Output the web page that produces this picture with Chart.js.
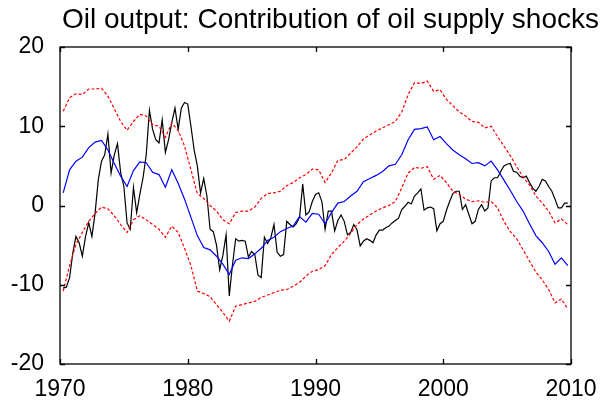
<!DOCTYPE html>
<html lang="en">
  <head>
    <meta charset="UTF-8" />
    <script src="https://cdn.jsdelivr.net/npm/chart.js@4.4.1/dist/chart.umd.min.js"></script>
    <title>Oil output: Contribution of oil supply shocks</title>
    <style>
      html,
      body {
        margin: 0;
        padding: 0;
        background-color: #ffffff;
      }

      canvas {
        display: block;
      }
    </style>
  </head>
  <body>
    <canvas id="myChart" width="616" height="407"></canvas>
    <script>
      // quarterly samples start at 1970.25; the smooth lines are read every half year
      const firstYear = 1970.25;
      const xTicks = [1970, 1980, 1990, 2000, 2010];
      const yTicks = [-20, -10, 0, 10, 20];
      const chartTitle = "Oil output: Contribution of oil supply shocks";

      // black: contribution (quarterly)
      const contribution = [
        -10.4, -10.3, -9.1, -6.0, -3.9, -4.7, -6.4, -3.9, -2.2, -3.9,
        -0.9, 3.3, 5.6, 6.4, 9.0, 4.1, 6.4, 7.8, 4.1, 2.4,
        -2.2, -3.0, 2.3, -0.9, 1.4, 3.5, 6.4, 12.0, 9.6, 8.3,
        7.9, 10.8, 6.7, 8.3, 10.5, 12.3, 9.6, 12.3, 13.0, 12.8,
        10.0, 7.0, 5.0, 1.6, 3.4, 1.2, -3.0, -3.3, -5.0, -8.1,
        -6.3, -3.7, -11.4, -7.5, -4.2, -4.5, -4.4, -4.5, -6.5, -5.8,
        -6.2, -8.8, -9.1, -4.0, -4.8, -4.1, -2.4, -5.9, -6.4, -6.2,
        -2.0, -2.4, -2.7, -2.3, -1.5, 2.7, -1.2, -0.8, 0.5, 1.4,
        1.6, 0.5, -3.0, -0.7, -0.7, -3.2, -1.9, -1.2, -2.0, -3.7,
        -3.4, -2.4, -3.1, -5.1, -4.5, -4.2, -4.4, -4.7, -3.7, -3.1,
        -3.1, -2.8, -2.6, -2.2, -1.9, -1.6, -0.5, -0.1, 0.4, 0.2,
        1.2, 1.6, 2.1, -0.6, -0.3, -0.2, -0.4, -3.2, -2.3, -2.0,
        -0.6, 0.5, 1.5, 1.8, 1.8, -0.5, 0.1, -1.1, -2.3, -2.0,
        -0.5, 0.1, -0.7, -0.3, 3.1, 3.5, 3.5, 4.3, 5.0, 5.2,
        5.3, 4.3, 4.2, 3.7, 3.5, 3.7, 2.9, 2.2, 1.8, 2.4,
        3.3, 3.1, 2.4, 1.8, 0.8, -0.3, -0.3, 0.3, 0.3
      ];

      // blue: median (half-yearly)
      const median = [
        1.6, 4.5, 5.6, 6.1, 7.3, 8.0, 8.2, 7.0, 5.3, 3.7,
        2.4, 4.4, 5.5, 5.4, 4.2, 3.9, 2.3, 4.5, 2.8, 0.8,
        -1.5, -3.8, -5.3, -5.6, -6.4, -7.4, -8.7, -6.9, -6.6, -6.7,
        -6.1, -5.4, -4.4, -4.0, -3.3, -2.9, -2.6, -1.4, -2.1, -1.0,
        -1.1, -2.3, -0.9, 0.3, 0.5, 1.2, 1.8, 3.0, 3.4, 3.8,
        4.3, 5.0, 5.2, 6.4, 8.3, 9.6, 9.7, 9.9, 8.3, 8.7,
        7.8, 7.0, 6.4, 5.9, 5.3, 5.4, 5.0, 5.6, 4.5, 3.2,
        1.9, 0.5, -0.7, -2.3, -3.8, -4.7, -5.8, -7.4, -6.6, -7.6
      ];

      // red dashed: upper and lower bands (half-yearly)
      const upperBand = [
        11.9, 13.6, 14.1, 14.0, 14.7, 14.7, 14.8, 13.8, 12.2, 10.6,
        9.5, 10.6, 11.5, 11.3, 10.2, 10.0, 8.6, 10.4, 9.5, 7.5,
        4.5, 1.5, 0.9, 0.0, -0.7, -1.8, -2.3, -0.9, -0.7, -0.7,
        -0.2, 0.9, 1.5, 1.6, 1.8, 2.5, 2.9, 3.5, 3.9, 4.6,
        4.5, 2.9, 4.1, 5.7, 5.8, 6.6, 7.4, 8.4, 8.9, 9.4,
        9.8, 10.2, 10.6, 11.8, 14.0, 15.5, 15.4, 15.7, 14.4, 14.6,
        13.4, 12.6, 11.8, 11.3, 10.6, 10.5, 9.8, 10.0, 8.7, 7.5,
        6.3, 4.9, 3.6, 2.6, 1.2, 0.3, -0.7, -2.2, -1.7, -2.4
      ];
      const lowerBand = [
        -10.8, -7.6, -4.9, -3.4, -2.0, -1.0, -0.2, -0.4, -1.3, -2.4,
        -3.4, -1.8, -1.3, -1.8, -2.4, -3.0, -4.0, -2.6, -3.4, -5.4,
        -7.6, -10.8, -11.1, -11.5, -12.5, -13.5, -14.6, -12.7, -12.5, -12.3,
        -12.1, -11.6, -11.3, -11.0, -10.7, -10.6, -10.2, -9.7, -8.9, -8.3,
        -8.1, -7.6, -6.2, -5.3, -4.5, -3.5, -2.4, -1.7, -1.2, -0.7,
        -0.3, 0.0, 0.5, 2.2, 4.1, 4.8, 4.7, 4.9, 3.3, 3.8,
        2.9, 1.8, 1.4, 0.8, 0.5, 0.6, 0.4, 0.5, -0.3, -2.0,
        -3.3, -4.2, -5.6, -7.0, -8.4, -9.4, -10.6, -12.3, -11.8, -13.1
      ];

      function toPoints(values, step) {
        return values.map((v, i) => ({ x: firstYear + i * step, y: v }));
      }

      const fontFamily = "'Liberation Sans', Arial, Helvetica, sans-serif";

      // MATLAB-style box with inward tick marks, title centred a bit right of the axes
      const frameTicks = {
        id: "frameTicks",
        afterDatasetsDraw(chart) {
          const { ctx, chartArea: a, scales } = chart;
          ctx.save();
          ctx.strokeStyle = "#000";
          ctx.lineWidth = 1.3;
          ctx.strokeRect(a.left, a.top, a.right - a.left, a.bottom - a.top);
          ctx.beginPath();
          xTicks.forEach(v => {
            const px = Math.round(scales.x.getPixelForValue(v)) + 0.5;
            ctx.moveTo(px, a.bottom);
            ctx.lineTo(px, a.bottom - 5);
            ctx.moveTo(px, a.top);
            ctx.lineTo(px, a.top + 5);
          });
          yTicks.forEach(v => {
            const py = Math.round(scales.y.getPixelForValue(v)) + 0.5;
            ctx.moveTo(a.left, py);
            ctx.lineTo(a.left + 5, py);
            ctx.moveTo(a.right, py);
            ctx.lineTo(a.right - 5, py);
          });
          ctx.stroke();

          ctx.fillStyle = "#000";
          ctx.font = "28px " + fontFamily;
          ctx.textAlign = "center";
          ctx.textBaseline = "middle";
          ctx.fillText(chartTitle, (a.left + a.right) / 2 + 15, 20);
          ctx.restore();
        }
      };

      const ctx = document.getElementById("myChart").getContext("2d");
      const myChart = new Chart(ctx, {
        type: "line",
        data: {
          datasets: [
            {
              label: "contribution",
              data: toPoints(contribution, 0.25),
              borderColor: "#000000",
              borderWidth: 1.2,
              pointRadius: 0,
              tension: 0,
              order: 3
            },
            {
              label: "median",
              data: toPoints(median, 0.5),
              borderColor: "#0000ff",
              borderWidth: 1.2,
              pointRadius: 0,
              tension: 0,
              order: 2
            },
            {
              label: "upper",
              data: toPoints(upperBand, 0.5),
              borderColor: "#ff0000",
              borderWidth: 1.2,
              borderDash: [3, 2],
              pointRadius: 0,
              tension: 0,
              order: 1
            },
            {
              label: "lower",
              data: toPoints(lowerBand, 0.5),
              borderColor: "#ff0000",
              borderWidth: 1.2,
              borderDash: [3, 2],
              pointRadius: 0,
              tension: 0,
              order: 1
            }
          ]
        },
        options: {
          responsive: false,
          animation: false,
          devicePixelRatio: 1,
          layout: { padding: { top: 47, right: 45, bottom: 0, left: 0 } },
          plugins: {
            legend: { display: false },
            tooltip: { enabled: false },
            title: { display: false }
          },
          scales: {
            x: {
              type: "linear",
              min: 1970,
              max: 2010,
              afterBuildTicks: s => { s.ticks = xTicks.map(v => ({ value: v })); },
              afterFit: s => { s.height = 43; },
              grid: { display: false },
              border: { display: false },
              ticks: {
                color: "#000",
                font: { family: fontFamily, size: 23 },
                padding: 4,
                maxRotation: 0,
                autoSkip: false,
                callback: v => String(v)
              }
            },
            y: {
              min: -20,
              max: 20,
              afterBuildTicks: s => { s.ticks = yTicks.map(v => ({ value: v })); },
              afterFit: s => { s.width = 60; },
              grid: { display: false },
              border: { display: false },
              ticks: {
                color: "#000",
                font: { family: fontFamily, size: 23 },
                padding: 8,
                callback: v => String(v)
              }
            }
          }
        },
        plugins: [frameTicks]
      });
    </script>
  </body>
</html>
